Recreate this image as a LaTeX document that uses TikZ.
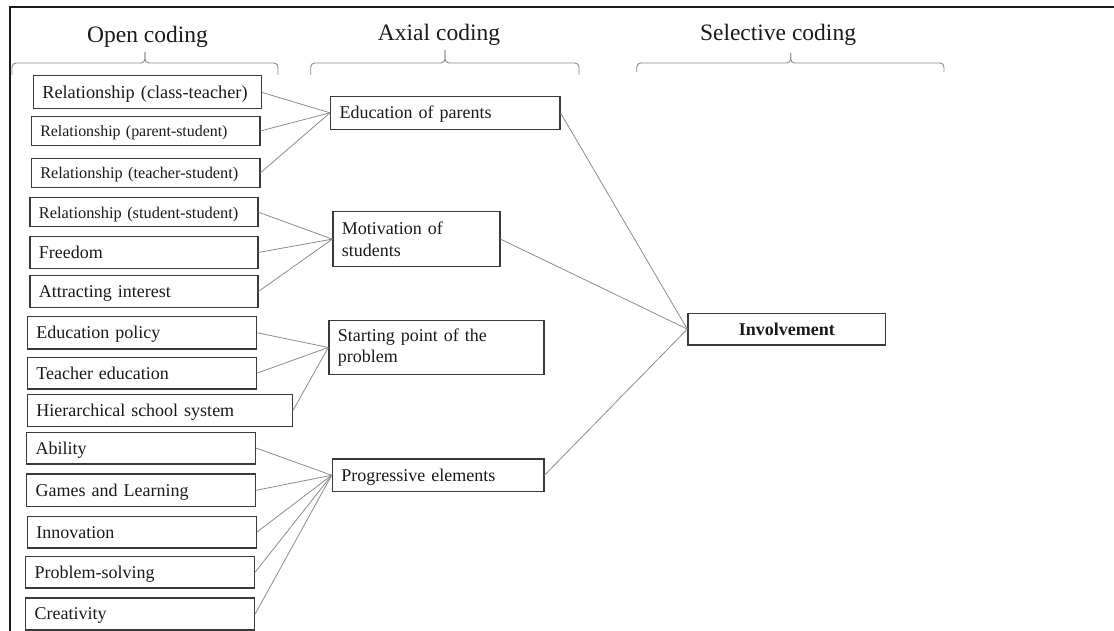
\documentclass[tikz,border=0pt]{standalone}
\usepackage{fontspec}
\setmainfont{Liberation Serif}
\definecolor{ink}{HTML}{1A1A1A}
\definecolor{boxline}{HTML}{3A3A3A}
\definecolor{linkgray}{HTML}{8C8C8C}
\definecolor{bracegray}{HTML}{8A8A8A}
\begin{document}
\begin{tikzpicture}[x=1pt,y=1pt,
  every node/.style={text=ink},
  hdr/.style={font=\fontsize{23.5}{28}\selectfont, anchor=base, inner sep=0pt},
  cbox/.style={draw=boxline, line width=1.2pt, inner xsep=9pt, inner ysep=0pt,
    align=left, anchor=north west, font=\fontsize{18}{21.6}\selectfont},
  oneline/.style={text height=16.5pt, text depth=4.7pt},
  fs/.style={font=\fontsize{#1}{1.2*#1}\selectfont},
  link/.style={draw=linkgray, line width=0.8pt},
  cbrace/.style={draw=bracegray, line width=0.9pt, rounded corners=4pt},
]
\useasboundingbox (0,0) rectangle (1114,-631);

% frame
\draw[ink, line width=2pt] (9.5,-640) -- (9.5,-7) -- (1120,-7);

% column headings
\node[hdr] (hopen)  at (147.5,-43) {Open coding};
\node[hdr] (haxial) at (439,-40.7) {Axial coding};
\node[hdr] (hsel)   at (778,-40.7) {Selective coding};

% braces under the headings
\draw[cbrace] (12,-75) -- (12,-63) -- (145,-63) -- (145,-52);
\draw[cbrace] (278,-75) -- (278,-63) -- (145,-63) -- (145,-52);
\draw[cbrace] (310.7,-75) -- (310.7,-63) -- (445,-63) -- (445,-50);
\draw[cbrace] (579,-75) -- (579,-63) -- (445,-63) -- (445,-50);
\draw[cbrace] (636.7,-72) -- (636.7,-63) -- (790.7,-63) -- (790.7,-53);
\draw[cbrace] (944,-72) -- (944,-63) -- (790.7,-63) -- (790.7,-53);

% open codes
\node[cbox, oneline, text width=210pt, minimum height=33pt, font=\fontsize{18.3}{22}\selectfont] (o1) at (32.7,-75.3) {Relationship (class-teacher)};
\node[cbox, oneline, text width=210.6pt, minimum height=28.7pt, font=\fontsize{15.9}{19}\selectfont] (o2) at (30.7,-116) {Relationship (parent-student)};
\node[cbox, oneline, text width=210.6pt, minimum height=29pt, font=\fontsize{16.3}{19.5}\selectfont] (o3) at (30.7,-157.7) {Relationship (teacher-student)};
\node[cbox, oneline, text width=210pt, minimum height=28.7pt, font=\fontsize{16.4}{19.7}\selectfont] (o4) at (29.3,-197.3) {Relationship (student-student)};
\node[cbox, oneline, text width=210pt, minimum height=31.7pt] (o5) at (29.3,-236) {Freedom};
\node[cbox, oneline, text width=210pt, minimum height=31.7pt] (o6) at (29.3,-275) {Attracting interest};
\node[cbox, oneline, text width=211.3pt, minimum height=32.3pt] (o7) at (26.7,-316) {Education policy};
\node[cbox, oneline, text width=211.3pt, minimum height=31.6pt] (o8) at (26.7,-356.7) {Teacher education};
\node[cbox, oneline, text width=247pt, minimum height=32pt] (o9) at (26.7,-394) {Hierarchical school system};
\node[cbox, oneline, text width=211pt, minimum height=31.6pt] (o10) at (26,-431.7) {Ability};
\node[cbox, oneline, text width=211pt, minimum height=32.7pt] (o11) at (26,-473.3) {Games and Learning};
\node[cbox, oneline, text width=211pt, minimum height=31.6pt] (o12) at (26.7,-515.7) {Innovation};
\node[cbox, oneline, text width=211pt, minimum height=31.6pt] (o13) at (25,-555.7) {Problem-solving};
\node[cbox, oneline, text width=211pt, minimum height=32pt] (o14) at (25,-597.3) {Creativity};

% axial codes
\node[cbox, oneline, text width=211.3pt, minimum height=33pt] (a1) at (330,-95.7) {Education of parents};
\node[cbox, text width=149pt, minimum height=55pt] (a2) at (332.3,-211) {Motivation of\\students};
\node[cbox, text width=197pt, minimum height=53.7pt] (a3) at (328.3,-320) {Starting point of the\\problem};
\node[cbox, oneline, text width=193.6pt, minimum height=32.7pt] (a4) at (331.7,-458.3) {Progressive elements};

% selective code
\node[cbox, oneline, align=center, text width=179.7pt, minimum height=31.6pt, font=\fontsize{18}{21.6}\selectfont\bfseries] (s1) at (687.3,-312.7) {Involvement};

% connectors
\foreach \o in {o1,o2,o3} \draw[link] (\o.east) -- (a1.west);
\foreach \o in {o4,o5,o6} \draw[link] (\o.east) -- (a2.west);
\foreach \o in {o7,o8,o9} \draw[link] (\o.east) -- (a3.west);
\foreach \o in {o10,o11,o12,o13,o14} \draw[link] (\o.east) -- (a4.west);
\foreach \a in {a1,a2,a4} \draw[link] (\a.east) -- (s1.west);
\end{tikzpicture}
\end{document}
